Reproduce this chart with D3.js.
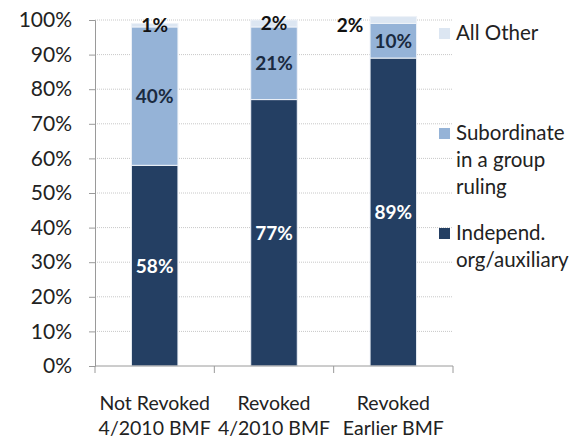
<!DOCTYPE html>
<html>
<head>
<meta charset="utf-8">
<script src="https://cdn.jsdelivr.net/npm/d3@7"></script>
<style>
  html, body { margin: 0; padding: 0; background: #fff; }
  svg { display: block; font-family: Lato, "Open Sans", sans-serif; }
</style>
</head>
<body>
<svg id="chart" width="583" height="442"></svg>
<script>
// Categories (two-line labels) and series values in percent
const categories = [
  ["Not Revoked", "4/2010 BMF"],
  ["Revoked", "4/2010 BMF"],
  ["Revoked", "Earlier BMF"]
];
const independent = [58, 77, 89];
const subordinate = [40, 21, 10];
const allOther = [1, 2, 2];
const yTicks = [0, 10, 20, 30, 40, 50, 60, 70, 80, 90, 100];

const seriesNames = ["Independ. org/auxiliary", "Subordinate in a group ruling", "All Other"];
const colors = ["#243f63", "#95b3d7", "#dce6f2"];

const svg = d3.select("#chart");
const margin = { left: 95, right: 130, top: 20, bottom: 76 };
const W = 583, H = 442;

const x = d3.scaleBand()
  .domain(d3.range(categories.length))
  .range([margin.left, W - margin.right])
  .paddingInner(0.61).paddingOuter(0.305);

const y = d3.scaleLinear().domain([0, 100]).range([H - margin.bottom, margin.top]);

// Gridlines
svg.append("g").selectAll("line").data(yTicks.filter(d => d > 0)).join("line")
  .attr("x1", margin.left).attr("x2", W - margin.right)
  .attr("y1", d => y(d)).attr("y2", d => y(d))
  .attr("stroke", "#c8c8c8").attr("stroke-width", 1)
  .attr("stroke-dasharray", "1,1");

// Stacked data
const rows = categories.map((c, i) => ({ i, a: independent[i], b: subordinate[i], c: allOther[i] }));
const stack = d3.stack().keys(["a", "b", "c"])(rows);

const gBars = svg.append("g");
stack.forEach((layer, k) => {
  gBars.selectAll(null).data(layer).join("rect")
    .attr("x", d => x(d.data.i))
    .attr("width", x.bandwidth())
    .attr("y", d => y(d[1]))
    .attr("height", d => y(d[0]) - y(d[1]))
    .attr("fill", colors[k])
    .attr("stroke", "#eef2f8").attr("stroke-width", 1);
});

// Y axis
const yAxis = d3.axisLeft(y).tickValues(yTicks).tickFormat(d => d + "%").tickSize(6).tickPadding(17);
const gy = svg.append("g").attr("transform", `translate(${margin.left},0)`).call(yAxis);
gy.select(".domain").attr("stroke", "#9a9a9a");
gy.selectAll(".tick line").attr("stroke", "#9a9a9a");
gy.selectAll(".tick text").attr("font-size", 21).attr("fill", "#222").attr("font-family", "Lato, sans-serif");

// X axis with boundary ticks between categories
const gx = svg.append("g").attr("transform", `translate(0,${y(0)})`);
gx.append("line").attr("x1", margin.left).attr("x2", W - margin.right)
  .attr("stroke", "#9a9a9a");
const bounds = d3.range(categories.length + 1).map(j => margin.left + j * (W - margin.left - margin.right) / categories.length);
gx.selectAll(".bt").data(bounds).join("line")
  .attr("x1", d => d).attr("x2", d => d).attr("y1", 0).attr("y2", 7)
  .attr("stroke", "#9a9a9a");
gx.selectAll(".cat").data(categories).join("text")
  .attr("text-anchor", "middle")
  .attr("font-size", 19.5).attr("fill", "#222")
  .attr("x", (d, i) => x(i) + x.bandwidth() / 2)
  .selectAll("tspan").data(d => d).join("tspan")
  .attr("x", function() { return d3.select(this.parentNode).attr("x"); })
  .attr("y", (d, j) => 44 + j * 25)
  .text(d => d);

// Value labels
const cx = i => x(i) + x.bandwidth() / 2;
const lbl = svg.append("g").attr("font-weight", "bold").attr("font-size", 19).attr("text-anchor", "middle");
rows.forEach((r, i) => {
  lbl.append("text").attr("x", cx(i)).attr("y", y(r.a / 2) + 7)
    .attr("fill", "#fff").text(r.a + "%");
  lbl.append("text").attr("x", cx(i)).attr("y", y(r.a + r.b / 2) + 7)
    .attr("fill", "#1a2a40").text(r.b + "%");
});
// All Other labels sit at the top of each bar
lbl.append("text").attr("x", cx(0)).attr("y", y(100) + 12).attr("fill", "#111").text(allOther[0] + "%");
lbl.append("text").attr("x", cx(1)).attr("y", y(100) + 10).attr("fill", "#111").text(allOther[1] + "%");
lbl.append("text").attr("x", x(2) - 20).attr("y", y(100) + 12).attr("fill", "#111").text(allOther[2] + "%");

// Legend
const legendItems = [
  { c: colors[2], lines: ["All Other"], y: 33 },
  { c: colors[1], lines: ["Subordinate", "in a group", "ruling"], y: 133 },
  { c: colors[0], lines: ["Independ.", "org/auxiliary"], y: 233 }
];
const lg = svg.append("g");
legendItems.forEach(it => {
  lg.append("rect").attr("x", 439).attr("y", it.y - 5).attr("width", 11).attr("height", 11).attr("fill", it.c);
  const t = lg.append("text").attr("font-size", 20.5).attr("fill", "#222");
  it.lines.forEach((s, j) => {
    t.append("tspan").attr("x", 456).attr("y", it.y + 7 + j * 27).text(s);
  });
});
</script>
</body>
</html>
